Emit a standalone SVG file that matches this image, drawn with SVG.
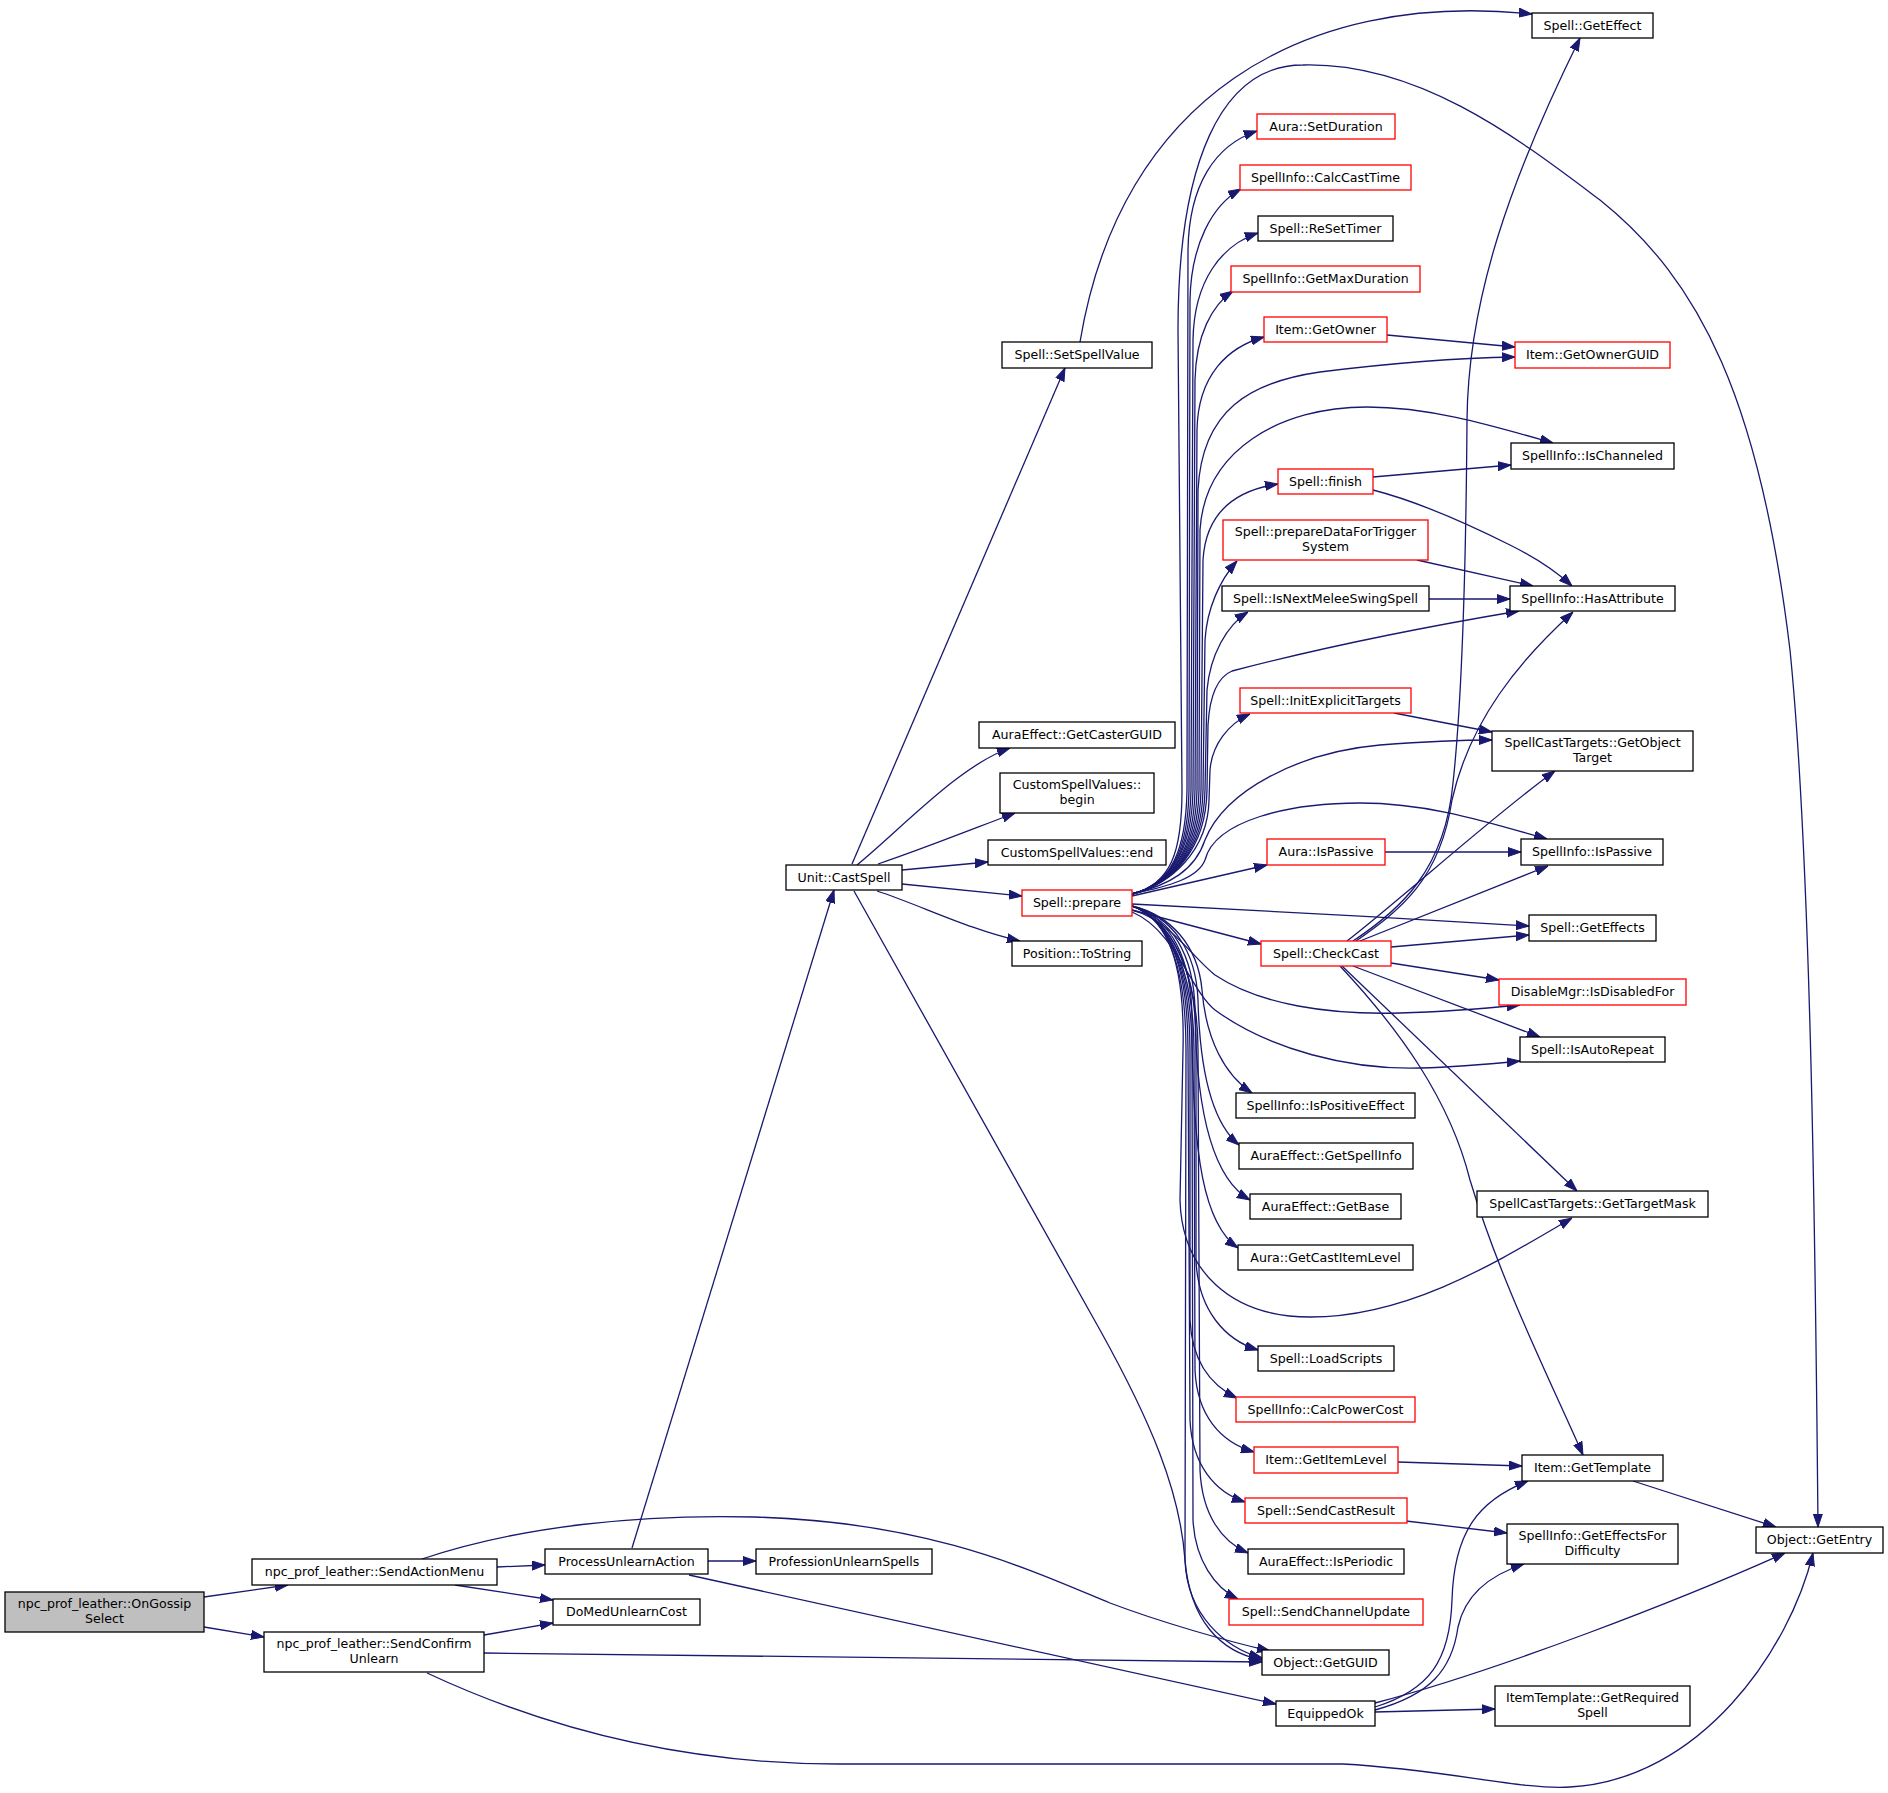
<svg xmlns="http://www.w3.org/2000/svg" width="1888" height="1793" viewBox="0 0 1888 1793">
<defs>
<marker id="a" markerUnits="userSpaceOnUse" markerWidth="13" markerHeight="10" viewBox="0 0 13 10" refX="13" refY="5" orient="auto">
<path d="M0,0.5 L13,5 L0,9.5 z" fill="#191970" stroke="#191970" stroke-width="1"/>
</marker>
<style>
.n rect{fill:#fff;stroke:#000;stroke-width:1.3}
.r rect{stroke:#ff0000}
.g rect{fill:#bfbfbf}
text{font-family:"DejaVu Sans","Liberation Sans",sans-serif;font-size:12.6px;text-anchor:middle;fill:#000}
#edges path{fill:none;stroke:#191970;stroke-width:1.3;marker-end:url(#a)}
</style>
</defs>
<rect width="1888" height="1793" fill="#fff"/>
<g id="edges">
<path d="M204,1597 L288,1585"/>
<path d="M204,1627 L264,1637"/>
<path d="M497,1567 L545,1565"/>
<path d="M455,1585 L553,1600"/>
<path d="M422,1559 C 520,1526 640,1514 755,1517 C 930,1522 1030,1570 1110,1603 C 1160,1622 1230,1642 1270,1651"/>
<path d="M484,1635 L553,1623"/>
<path d="M484,1653 L1262,1662"/>
<path d="M427,1673 C 560,1735 700,1764 838,1764 L1343,1764 C 1450,1770 1520,1790 1570,1787 C 1700,1780 1790,1650 1813,1553"/>
<path d="M632,1548 L834,890"/>
<path d="M708,1561 L756,1561"/>
<path d="M689,1575 L1276,1704"/>
<path d="M852,864 L1065,368"/>
<path d="M857,865 C 900,830 960,765 1010,748"/>
<path d="M878,864 C 920,850 970,830 1015,813"/>
<path d="M902,870 L988,862"/>
<path d="M902,884 L1022,896"/>
<path d="M877,891 C 920,905 970,930 1020,941"/>
<path d="M854,891 L1100,1330 C 1150,1420 1180,1490 1185,1560 C 1190,1620 1220,1652 1262,1660"/>
<path d="M1080,342 C 1120,100 1300,-10 1532,14"/>
<path d="M1132,894 C 1172,884 1182,850 1182,790 L1178,330 C 1178,165 1220,65 1303,65 C 1420,62 1520,140 1600,200 C 1700,280 1760,400 1790,650 C 1810,850 1815,1200 1818,1527"/>
<path d="M1132,894 C 1172,884 1186,850 1187,790 L1188,250 C 1189,185 1215,145 1257,131"/>
<path d="M1132,894 C 1172,884 1188,850 1189,790 L1190,300 C 1191,245 1212,205 1241,189"/>
<path d="M1132,894 C 1172,884 1190,850 1191,790 L1193,340 C 1194,280 1222,245 1258,233"/>
<path d="M1132,894 C 1172,884 1192,850 1193,790 L1195,380 C 1196,335 1212,305 1233,291"/>
<path d="M1132,894 C 1172,884 1194,850 1195,790 L1197,430 C 1198,375 1228,347 1264,337"/>
<path d="M1132,894 C 1172,884 1196,850 1197,790 L1198,490 C 1202,410 1250,382 1320,372 C 1400,362 1460,358 1515,357"/>
<path d="M1132,894 C 1172,884 1198,850 1199,790 L1200,530 C 1205,450 1280,407 1367,407 C 1430,407 1490,425 1553,443"/>
<path d="M1132,894 C 1172,884 1200,850 1201,790 L1203,560 C 1206,510 1238,490 1278,484"/>
<path d="M1132,894 C 1172,884 1202,850 1203,790 L1205,640 C 1207,608 1220,580 1237,561"/>
<path d="M1132,894 C 1172,884 1204,850 1205,790 L1207,690 C 1210,655 1227,625 1248,612"/>
<path d="M1132,894 C 1172,884 1206,850 1207,790 L1208,725 C 1210,690 1220,676 1232,671 C 1320,648 1430,626 1519,611"/>
<path d="M1132,894 C 1172,884 1208,850 1209,800 L1210,770 C 1212,745 1228,724 1250,714"/>
<path d="M1132,894 C 1170,885 1195,870 1205,840 C 1225,790 1300,752 1380,745 C 1420,742 1460,740 1492,740"/>
<path d="M1132,894 C 1170,886 1198,878 1205,860 C 1215,820 1290,803 1360,803 C 1430,803 1490,823 1547,839"/>
<path d="M1132,896 L1267,865"/>
<path d="M1132,904 C 1250,910 1400,918 1529,926"/>
<path d="M1132,910 L1261,944"/>
<path d="M1132,910 C 1170,920 1190,955 1215,975 C 1260,1005 1330,1015 1400,1013 C 1440,1012 1480,1009 1520,1005"/>
<path d="M1132,912 C 1175,930 1190,990 1215,1010 C 1270,1050 1350,1070 1420,1068 C 1460,1067 1490,1064 1520,1061"/>
<path d="M1132,906 C 1170,915 1198,945 1202,990 C 1206,1040 1225,1075 1252,1093"/>
<path d="M1132,906 C 1172,916 1196,950 1198,1000 C 1200,1080 1215,1125 1239,1145"/>
<path d="M1132,906 C 1172,918 1194,955 1195,1010 C 1196,1120 1215,1180 1250,1200"/>
<path d="M1132,906 C 1172,918 1192,960 1192,1020 C 1192,1160 1205,1225 1238,1248"/>
<path d="M1132,906 C 1170,918 1185,970 1183,1050 L1180,1200 C 1182,1270 1230,1317 1310,1317 C 1410,1317 1500,1260 1572,1218"/>
<path d="M1132,906 C 1172,920 1196,970 1196,1040 L1196,1260 C 1198,1310 1225,1340 1258,1350"/>
<path d="M1132,906 C 1172,920 1190,975 1190,1050 L1190,1320 C 1192,1360 1210,1385 1237,1398"/>
<path d="M1132,906 C 1172,920 1194,975 1194,1050 L1195,1370 C 1197,1415 1220,1442 1254,1452"/>
<path d="M1132,906 C 1172,920 1188,975 1188,1050 L1190,1420 C 1192,1465 1215,1492 1245,1502"/>
<path d="M1132,906 C 1172,920 1198,975 1198,1050 L1200,1470 C 1202,1515 1222,1542 1248,1553"/>
<path d="M1132,906 C 1172,920 1192,975 1192,1050 L1193,1520 C 1195,1560 1215,1588 1238,1599"/>
<path d="M1132,906 C 1172,920 1186,975 1186,1050 L1185,1560 C 1187,1615 1225,1648 1262,1658"/>
<path d="M1387,335 L1515,347"/>
<path d="M1373,477 L1511,465"/>
<path d="M1373,490 C 1420,502 1470,525 1510,545 C 1540,560 1560,575 1572,586"/>
<path d="M1417,560 L1533,586"/>
<path d="M1429,599 L1510,599"/>
<path d="M1394,713 L1492,732"/>
<path d="M1385,852 L1521,852"/>
<path d="M1353,941 C 1400,910 1445,870 1453,783 C 1462,700 1466,560 1467,420 C 1468,300 1510,180 1580,38"/>
<path d="M1356,941 C 1400,910 1440,880 1452,800 C 1470,720 1520,660 1573,612"/>
<path d="M1347,941 C 1400,900 1500,810 1555,771"/>
<path d="M1360,941 L1548,866"/>
<path d="M1391,947 L1529,935"/>
<path d="M1391,963 L1499,980"/>
<path d="M1353,966 L1540,1037"/>
<path d="M1342,966 L1577,1191"/>
<path d="M1340,966 C 1400,1030 1450,1100 1470,1180 C 1500,1280 1550,1380 1583,1455"/>
<path d="M1398,1462 L1522,1466"/>
<path d="M1406,1521 L1507,1533"/>
<path d="M1375,1707 C 1430,1690 1450,1660 1452,1600 C 1454,1530 1480,1500 1528,1481"/>
<path d="M1375,1710 C 1430,1695 1452,1670 1458,1627 C 1465,1595 1490,1575 1524,1564"/>
<path d="M1375,1703 C 1500,1670 1680,1600 1785,1553"/>
<path d="M1375,1712 L1495,1709"/>
<path d="M1633,1481 L1776,1527"/>
</g>
<g id="n_root" class="n g"><rect x="5" y="1592" width="199" height="40"/><text x="104.5" y="1608">npc_prof_leather::OnGossip</text><text x="104.5" y="1623">Select</text></g>
<g id="n_sam" class="n"><rect x="252" y="1559" width="245" height="26"/><text x="374.5" y="1576">npc_prof_leather::SendActionMenu</text></g>
<g id="n_scu" class="n"><rect x="264" y="1632" width="220" height="40"/><text x="374" y="1648">npc_prof_leather::SendConfirm</text><text x="374" y="1663">Unlearn</text></g>
<g id="n_pua" class="n"><rect x="545" y="1549" width="163" height="25"/><text x="626.5" y="1566">ProcessUnlearnAction</text></g>
<g id="n_dmc" class="n"><rect x="553" y="1599" width="147" height="26"/><text x="626.5" y="1616">DoMedUnlearnCost</text></g>
<g id="n_ucs" class="n"><rect x="786" y="865" width="116" height="25"/><text x="844" y="882">Unit::CastSpell</text></g>
<g id="n_pus" class="n"><rect x="756" y="1549" width="176" height="25"/><text x="844" y="1566">ProfessionUnlearnSpells</text></g>
<g id="n_ssv" class="n"><rect x="1002" y="342" width="150" height="26"/><text x="1077" y="359">Spell::SetSpellValue</text></g>
<g id="n_gcg" class="n"><rect x="979" y="722" width="196" height="26"/><text x="1077" y="739">AuraEffect::GetCasterGUID</text></g>
<g id="n_csb" class="n"><rect x="1000" y="773" width="154" height="40"/><text x="1077" y="789">CustomSpellValues::</text><text x="1077" y="804">begin</text></g>
<g id="n_cse" class="n"><rect x="988" y="840" width="178" height="25"/><text x="1077" y="857">CustomSpellValues::end</text></g>
<g id="n_spr" class="n r"><rect x="1022" y="890" width="110" height="26"/><text x="1077" y="907">Spell::prepare</text></g>
<g id="n_pts" class="n"><rect x="1012" y="941" width="130" height="25"/><text x="1077" y="958">Position::ToString</text></g>
<g id="n_asd" class="n r"><rect x="1257" y="114" width="138" height="25"/><text x="1326" y="131">Aura::SetDuration</text></g>
<g id="n_cct" class="n r"><rect x="1240" y="165" width="171" height="25"/><text x="1325.5" y="182">SpellInfo::CalcCastTime</text></g>
<g id="n_rst" class="n"><rect x="1258" y="216" width="135" height="25"/><text x="1325.5" y="233">Spell::ReSetTimer</text></g>
<g id="n_gmd" class="n r"><rect x="1231" y="266" width="189" height="26"/><text x="1325.5" y="283">SpellInfo::GetMaxDuration</text></g>
<g id="n_igo" class="n r"><rect x="1264" y="317" width="123" height="25"/><text x="1325.5" y="334">Item::GetOwner</text></g>
<g id="n_sfi" class="n r"><rect x="1278" y="469" width="95" height="25"/><text x="1325.5" y="486">Spell::finish</text></g>
<g id="n_pdt" class="n r"><rect x="1223" y="520" width="205" height="40"/><text x="1325.5" y="536">Spell::prepareDataForTrigger</text><text x="1325.5" y="551">System</text></g>
<g id="n_inm" class="n"><rect x="1222" y="586" width="207" height="25"/><text x="1325.5" y="603">Spell::IsNextMeleeSwingSpell</text></g>
<g id="n_iet" class="n r"><rect x="1240" y="688" width="171" height="25"/><text x="1325.5" y="705">Spell::InitExplicitTargets</text></g>
<g id="n_aip" class="n r"><rect x="1267" y="839" width="118" height="26"/><text x="1326" y="856">Aura::IsPassive</text></g>
<g id="n_scc" class="n r"><rect x="1261" y="941" width="130" height="25"/><text x="1326" y="958">Spell::CheckCast</text></g>
<g id="n_ipe" class="n"><rect x="1236" y="1093" width="179" height="25"/><text x="1325.5" y="1110">SpellInfo::IsPositiveEffect</text></g>
<g id="n_gsi" class="n"><rect x="1239" y="1143" width="174" height="26"/><text x="1326" y="1160">AuraEffect::GetSpellInfo</text></g>
<g id="n_agb" class="n"><rect x="1250" y="1194" width="151" height="25"/><text x="1325.5" y="1211">AuraEffect::GetBase</text></g>
<g id="n_gci" class="n"><rect x="1238" y="1245" width="175" height="25"/><text x="1325.5" y="1262">Aura::GetCastItemLevel</text></g>
<g id="n_lsc" class="n"><rect x="1258" y="1346" width="136" height="25"/><text x="1326" y="1363">Spell::LoadScripts</text></g>
<g id="n_cpc" class="n r"><rect x="1236" y="1397" width="179" height="25"/><text x="1325.5" y="1414">SpellInfo::CalcPowerCost</text></g>
<g id="n_gil" class="n r"><rect x="1254" y="1447" width="144" height="26"/><text x="1326" y="1464">Item::GetItemLevel</text></g>
<g id="n_scr" class="n r"><rect x="1245" y="1498" width="162" height="25"/><text x="1326" y="1515">Spell::SendCastResult</text></g>
<g id="n_aep" class="n"><rect x="1248" y="1549" width="156" height="25"/><text x="1326" y="1566">AuraEffect::IsPeriodic</text></g>
<g id="n_scu2" class="n r"><rect x="1229" y="1599" width="194" height="26"/><text x="1326" y="1616">Spell::SendChannelUpdate</text></g>
<g id="n_ggu" class="n"><rect x="1262" y="1650" width="127" height="25"/><text x="1325.5" y="1667">Object::GetGUID</text></g>
<g id="n_eok" class="n"><rect x="1276" y="1701" width="99" height="25"/><text x="1325.5" y="1718">EquippedOk</text></g>
<g id="n_gef" class="n"><rect x="1532" y="13" width="121" height="25"/><text x="1592.5" y="30">Spell::GetEffect</text></g>
<g id="n_gog" class="n r"><rect x="1515" y="342" width="155" height="26"/><text x="1592.5" y="359">Item::GetOwnerGUID</text></g>
<g id="n_ich" class="n"><rect x="1511" y="443" width="163" height="26"/><text x="1592.5" y="460">SpellInfo::IsChanneled</text></g>
<g id="n_has" class="n"><rect x="1510" y="586" width="165" height="25"/><text x="1592.5" y="603">SpellInfo::HasAttribute</text></g>
<g id="n_got" class="n"><rect x="1492" y="731" width="201" height="40"/><text x="1592.5" y="747">SpellCastTargets::GetObject</text><text x="1592.5" y="762">Target</text></g>
<g id="n_sip" class="n"><rect x="1521" y="839" width="142" height="26"/><text x="1592" y="856">SpellInfo::IsPassive</text></g>
<g id="n_gfs" class="n"><rect x="1529" y="915" width="127" height="26"/><text x="1592.5" y="932">Spell::GetEffects</text></g>
<g id="n_idf" class="n r"><rect x="1499" y="979" width="187" height="26"/><text x="1592.5" y="996">DisableMgr::IsDisabledFor</text></g>
<g id="n_iar" class="n"><rect x="1520" y="1037" width="145" height="25"/><text x="1592.5" y="1054">Spell::IsAutoRepeat</text></g>
<g id="n_gtm" class="n"><rect x="1477" y="1191" width="231" height="26"/><text x="1592.5" y="1208">SpellCastTargets::GetTargetMask</text></g>
<g id="n_gtp" class="n"><rect x="1522" y="1455" width="141" height="26"/><text x="1592.5" y="1472">Item::GetTemplate</text></g>
<g id="n_gfd" class="n"><rect x="1507" y="1524" width="171" height="40"/><text x="1592.5" y="1540">SpellInfo::GetEffectsFor</text><text x="1592.5" y="1555">Difficulty</text></g>
<g id="n_grs" class="n"><rect x="1495" y="1686" width="195" height="40"/><text x="1592.5" y="1702">ItemTemplate::GetRequired</text><text x="1592.5" y="1717">Spell</text></g>
<g id="n_gen" class="n"><rect x="1756" y="1527" width="127" height="26"/><text x="1819.5" y="1544">Object::GetEntry</text></g>
</svg>
